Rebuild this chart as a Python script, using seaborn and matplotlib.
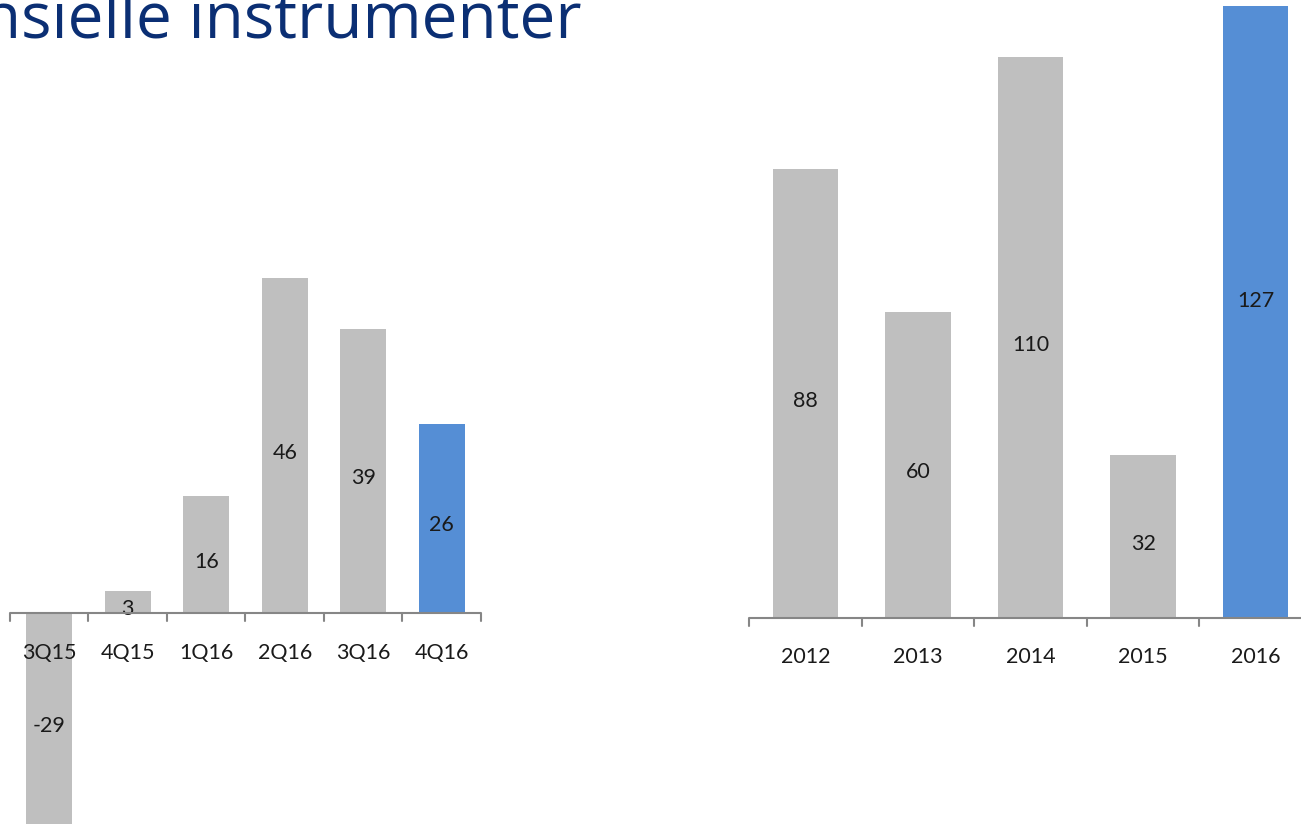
import numpy as np
import matplotlib
matplotlib.use("Agg")
import matplotlib.pyplot as plt
import matplotlib.transforms as mtransforms
import seaborn as sns

# data
quarters = ['3Q15', '4Q15', '1Q16', '2Q16', '3Q16', '4Q16']
quarter_vals = [-29, 3, 16, 46, 39, 26]
years = ['2012', '2013', '2014', '2015', '2016']
year_vals = [88, 60, 110, 32, 127]

GREY = '#BFBFBF'
BLUE = '#558ED5'
AXIS = '#868686'
TITLE = '#0B2F74'

sns.set_style('white')
plt.rcParams['font.family'] = ['Lato', 'DejaVu Sans']

W, H = 1301, 828
fig = plt.figure(figsize=(W / 100, H / 100), dpi=100)


def draw_bars(ax, cats, vals, ylim, tick_len, label_off):
    colors = [GREY] * (len(cats) - 1) + [BLUE]
    sns.barplot(x=cats, y=vals, hue=cats, palette=colors, legend=False,
                width=0.58, saturation=1, linewidth=0, ax=ax)
    ax.set_ylim(*ylim)
    ax.set_xlim(-0.5, len(cats) - 0.5)
    # value labels sit a little below the bar middle
    shifted = mtransforms.offset_copy(ax.transData, fig=fig, x=0, y=-3, units='points')
    for i, v in enumerate(vals):
        ax.text(i, v / 2, str(v), ha='center', va='center_baseline',
                fontsize=15.5, color='#1a1a1a', transform=shifted)
    # zero line with ticks between categories
    ax.axhline(0, color=AXIS, lw=1.5, zorder=3)
    for x in np.arange(-0.5, len(cats)):
        ax.plot([x, x], [0, -tick_len], color=AXIS, lw=1.5, clip_on=False, zorder=3)
    for i, c in enumerate(cats):
        ax.text(i, -label_off, c, ha='center', va='center', fontsize=15.5,
                color='#1a1a1a')
    for s in ax.spines.values():
        s.set_visible(False)
    ax.set_xticks([])
    ax.set_yticks([])
    ax.set_xlabel('')
    ax.set_ylabel('')
    ax.patch.set_alpha(0)


# left chart: quarterly
ax1 = fig.add_axes([10 / W, 0, 471 / W, 1])
draw_bars(ax1, quarters, quarter_vals, (-29.4, 84.3), 1.1, 5.4)

# right chart: yearly
ax2 = fig.add_axes([749 / W, 0, 563 / W, 821 / H])
draw_bars(ax2, years, year_vals, (-41, 120), 1.6, 7.4)

# slide title, partly off the canvas as in the reference
fig.text(582 / W, 1 - 37 / H, 'Finansielle instrumenter', ha='right',
         va='baseline', fontsize=46, color=TITLE, family=['Open Sans', 'DejaVu Sans'])

fig.savefig('out.png', dpi=100)
